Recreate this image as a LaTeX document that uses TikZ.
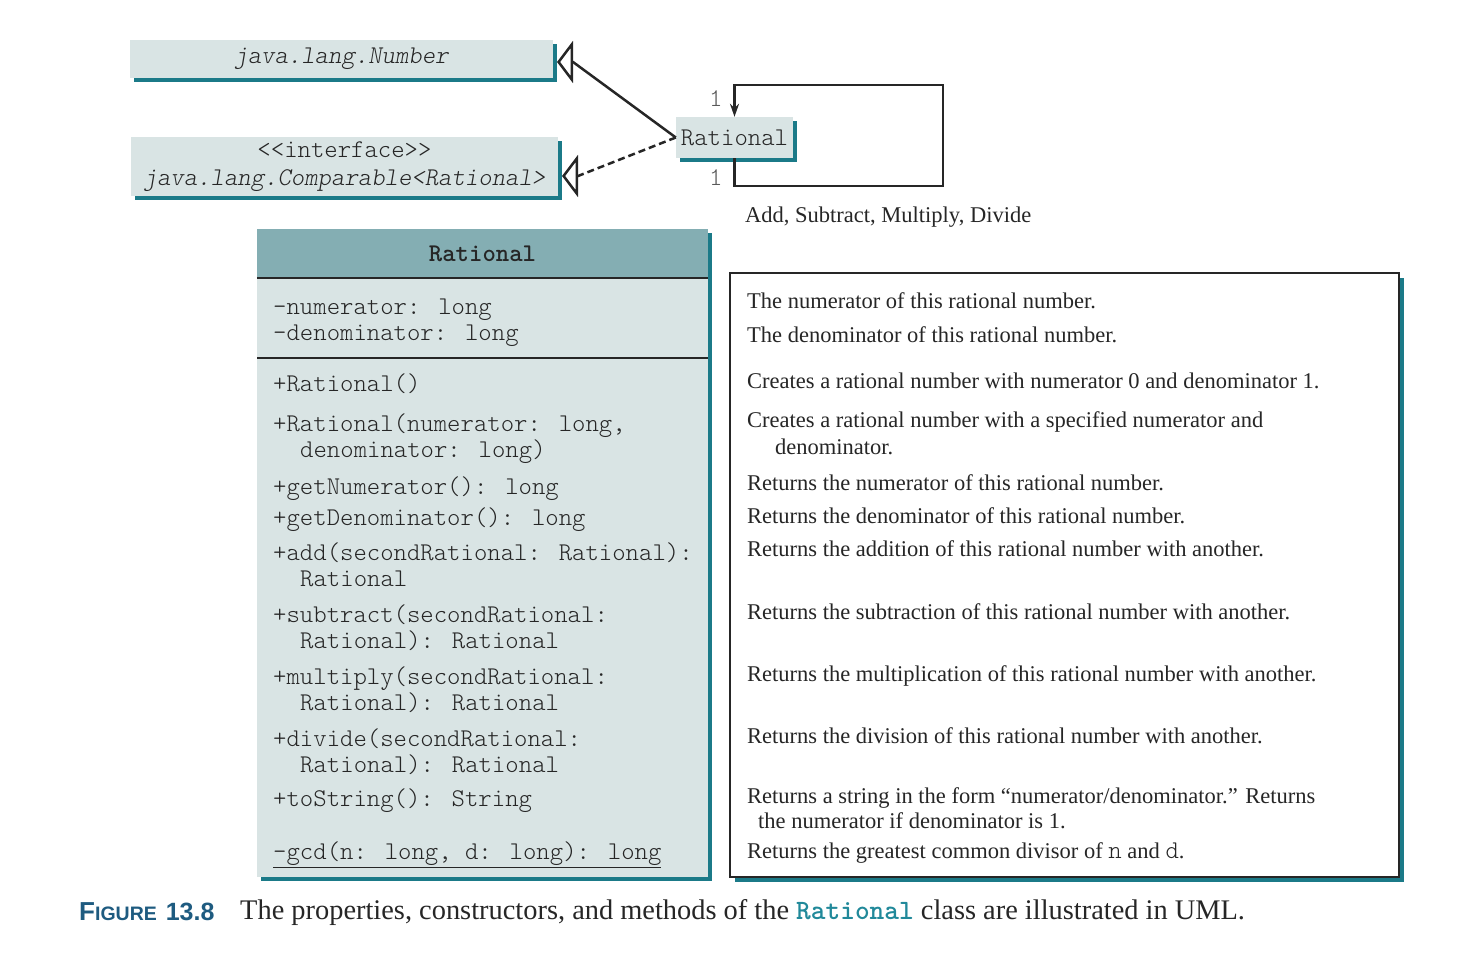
\documentclass[tikz,border=0pt]{standalone}
\usepackage{fontspec}
\setmainfont{Liberation Serif}
\setsansfont{Liberation Sans}
\usepackage{xcolor}
\usepackage{tikz}
\usetikzlibrary{arrows.meta, shadows}
\definecolor{boxfill}{HTML}{D9E4E4}
\definecolor{headfill}{HTML}{84AEB3}
\definecolor{shadeteal}{HTML}{1B7A88}
\definecolor{figblue}{HTML}{1E5B80}
\definecolor{codeteal}{HTML}{21899A}
\definecolor{inkgrey}{HTML}{262626}
\newcommand{\memberfont}{\fontsize{25.5}{28}\selectfont\ttfamily\fontseries{l}\selectfont}
\newcommand{\descfont}{\fontsize{22.5}{27}\selectfont\rmfamily}
\tikzstyle{umlbox} = [rectangle, inner sep=0pt, fill=boxfill, text=inkgrey, drop shadow={shadow xshift=4pt, shadow yshift=-4pt, fill=shadeteal, opacity=1}]
\tikzstyle{member} = [anchor=west, inner sep=0pt, text height=18pt, text depth=3pt, font=\memberfont, text=inkgrey]
\tikzstyle{descr} = [anchor=west, inner sep=0pt, text height=18pt, text depth=3pt, font=\descfont, text=inkgrey]
\tikzstyle{inherit} = [line width=2.5pt, draw=inkgrey, -{Triangle[open, length=16pt, width=42pt]}]
\tikzstyle{realize} = [inherit, dash pattern=on 7pt off 4pt]
\tikzstyle{assoc} = [line width=2.5pt, draw=inkgrey, -{Stealth[length=13pt, width=9pt]}]

\begin{document}
\begin{tikzpicture}[x=1pt, y=-1pt]
	\useasboundingbox (0,0) rectangle (1462,961);
	% top: the two parent types and the small class
	\node (num) [umlbox, minimum width=423pt, minimum height=38pt, font=\memberfont\itshape] at (341.5,59) {java.lang.Number};
	\node (cmp) [umlbox, minimum width=427pt, minimum height=59pt, font=\memberfont, align=center] at (344.5,166.5) {<<interface>>\\\textit{java.lang.Comparable<Rational>}};
	\node (rat) [umlbox, minimum width=117pt, minimum height=41pt, font=\memberfont] at (734.5,137.5) {Rational};
	\coordinate (numBase) at (573,62);
	\coordinate (numTip) at (557,62);
	\coordinate (cmpBase) at (578,176);
	\coordinate (cmpTip) at (562,176);
	\coordinate (loopBR) at (943,186);
	\coordinate (loopTR) at (943,85);
	\node (one1) [member, text=black!65] at (709,99) {1};
	\node (one2) [member, text=black!65] at (709,178) {1};
	\node (ops) [descr] at (745,215) {Add, Subtract, Multiply, Divide};

	\draw [inherit] (rat.west) -- (numBase) -- (numTip);
	\draw [realize] (rat.west) -- (cmpBase) -- (cmpTip);
	\draw [assoc] (rat.south) |- (loopBR) -- (loopTR) -| (rat.north);

	% class box
	\node (cls) [umlbox, minimum width=451pt, minimum height=648pt] at (482.5,553) {};
	\node (clsHead) [rectangle, fill=headfill, minimum width=451pt, minimum height=49pt, anchor=north, inner sep=0pt, font=\fontsize{25.5}{28}\selectfont\ttfamily\bfseries, text=inkgrey] at (cls.north) {Rational};
	\draw [line width=1.5pt, inkgrey] (clsHead.south west) -- (clsHead.south east);
	\draw [line width=1.5pt, inkgrey] (257,358) -- (708,358);

	\node (a1) [member] at (273,307) {-numerator: long};
	\node (a2) [member] at (273,333) {-denominator: long};
	\node (m1) [member] at (273,384) {+Rational()};
	\node (m2) [member] at (273,424) {+Rational(numerator: long,};
	\node (m2b) [member] at (300,450) {denominator: long)};
	\node (m3) [member] at (273,487) {+getNumerator(): long};
	\node (m4) [member] at (273,518) {+getDenominator(): long};
	\node (m5) [member] at (273,553) {+add(secondRational: Rational):};
	\node (m5b) [member] at (300,579) {Rational};
	\node (m6) [member] at (273,615) {+subtract(secondRational:};
	\node (m6b) [member] at (300,641) {Rational): Rational};
	\node (m7) [member] at (273,677) {+multiply(secondRational:};
	\node (m7b) [member] at (300,703) {Rational): Rational};
	\node (m8) [member] at (273,739) {+divide(secondRational:};
	\node (m8b) [member] at (300,765) {Rational): Rational};
	\node (m9) [member] at (273,799) {+toString(): String};
	\node (m10) [member] at (273,852) {\underline{-gcd(n: long, d: long): long}};

	% description box
	\node (desc) [rectangle, draw=inkgrey, line width=2pt, fill=white, minimum width=669pt, minimum height=604pt, drop shadow={shadow xshift=5pt, shadow yshift=-5pt, fill=shadeteal, opacity=1}] at (1064.5,575) {};
	\node (d1) [descr] at (747,301) {The numerator of this rational number.};
	\node (d2) [descr] at (747,335) {The denominator of this rational number.};
	\node (d3) [descr] at (747,381) {Creates a rational number with numerator 0 and denominator 1.};
	\node (d4) [descr] at (747,420) {Creates a rational number with a specified numerator and};
	\node (d4b) [descr] at (775,447) {denominator.};
	\node (d5) [descr] at (747,483) {Returns the numerator of this rational number.};
	\node (d6) [descr] at (747,516) {Returns the denominator of this rational number.};
	\node (d7) [descr] at (747,549) {Returns the addition of this rational number with another.};
	\node (d8) [descr] at (747,612) {Returns the subtraction of this rational number with another.};
	\node (d9) [descr] at (747,674) {Returns the multiplication of this rational number with another.};
	\node (d10) [descr] at (747,736) {Returns the division of this rational number with another.};
	\node (d11) [descr] at (747,796) {Returns a string in the form “numerator/denominator.” Returns};
	\node (d11b) [descr] at (758,821) {the numerator if denominator is 1.};
	\node (d12) [descr] at (747,851) {Returns the greatest common divisor of {\memberfont n} and {\memberfont d}.};

	% caption
	\node (figNo) [anchor=west, inner sep=0pt, text=figblue, font=\sffamily\bfseries] at (79,912) {{\fontsize{26}{30}\selectfont F}{\fontsize{19.5}{24}\selectfont IGURE}\hspace{9pt}{\fontsize{25}{30}\selectfont 13.8}};
	\node (capText) [anchor=west, inner sep=0pt, text=inkgrey, font=\fontsize{28.4}{34}\selectfont] at (240,913) {The properties, constructors, and methods of the {\ttfamily\bfseries\color{codeteal}\fontsize{28}{30}\selectfont Rational} class are illustrated in UML.};
\end{tikzpicture}
\end{document}
